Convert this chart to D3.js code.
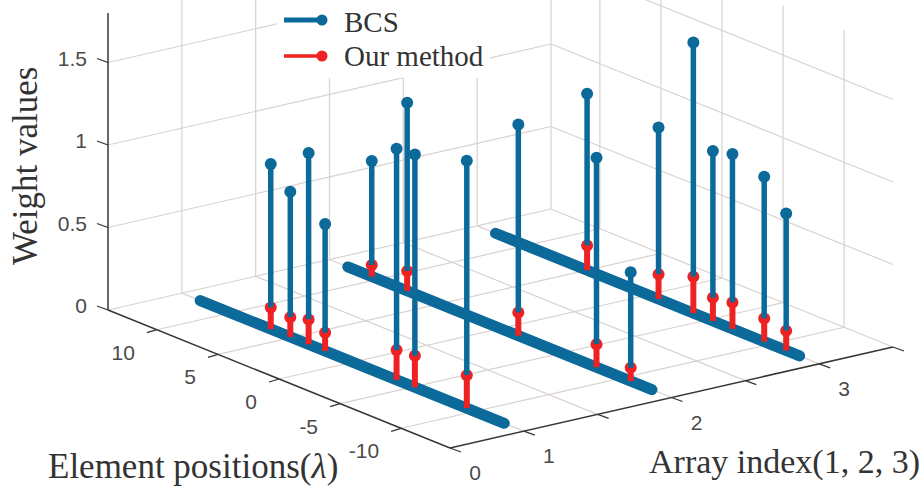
<!DOCTYPE html>
<html>
<head>
<meta charset="utf-8">
<script src="https://cdn.jsdelivr.net/npm/d3@7"></script>
<style>
  html, body { margin: 0; padding: 0; background: #fff; }
  .serif { font-family: "Liberation Serif", serif; fill: #333; }
  .tick { font-family: "Liberation Sans", sans-serif; font-size: 21px; fill: #4a4a4a; }
</style>
</head>
<body>
<div id="chart"></div>
<script>
// chart values
var arrayIndex = [1, 2, 3];
var lineExtent = [12.5, -12.4];

var positions1 = [6.72, 5.12, 3.62, 2.27, -3.58, -5.08, -9.33];
var bcs1 = [1.0, 0.88, 1.16, 0.77, 1.40, 1.41, 1.50];
var ours1 = [0.13, 0.12, 0.15, 0.11, 0.18, 0.19, 0.20];

var positions2 = [10.54, 7.64, -1.46, -7.86, -10.66];
var bcs2 = [0.70, 1.14, 1.28, 1.27, 0.66];
var ours2 = [0.07, 0.12, 0.14, 0.14, 0.08];

var positions3 = [5.0, -0.85, -3.7, -5.3, -6.9, -9.5, -11.3];
var bcs3 = [1.07, 1.04, 1.64, 1.03, 1.06, 1.0, 0.83];
var ours3 = [0.15, 0.15, 0.22, 0.14, 0.16, 0.14, 0.12];

var zTicks = [0, 0.5, 1, 1.5];
var zLabels = ["0", "0.5", "1", "1.5"];
var posTicks = [10, 5, 0, -5, -10];
var uGrid = [1, 1.5, 2, 2.5, 3];
var uTicks = [0.5, 1, 1.5, 2, 2.5, 3, 3.5];
var uLabelAt = [0.5, 1, 2, 3];
var uLabels = ["0", "1", "2", "3"];
var seriesNames = ["BCS", "Our method"];

var blue = "#0c6a9b", red = "#ee2222", gridColor = "#d9d2ce", axisColor = "#3a3535";
var width = 924, height = 486;

var svg = d3.select("#chart").append("svg")
    .attr("width", width)
    .attr("height", height)
    .style("display", "block");

// floor is a parallelogram, the scales give how far along each edge we are
var u = d3.scaleLinear().domain([0.5, 3.5]).range([0, 1]);
var p = d3.scaleLinear().domain([14, -14]).range([0, 1]);
var z = d3.scaleLinear().domain([0, 1.8]).range([0, 297]);
var zMax = 1.8;

function project(ui, pi, zi) {
  var a = u(ui), t = p(pi);
  return [108 + a * 443 + t * 342, 310 - a * 101 + t * 138 - z(zi)];
}

var line = d3.line();
function seg(g, a, b, color, w, cap) {
  return g.append("path")
    .attr("d", line([a, b]))
    .attr("fill", "none")
    .attr("stroke", color)
    .attr("stroke-width", w)
    .attr("stroke-linecap", cap || "butt");
}

// grid on the floor and both walls
var grid = svg.append("g");
uGrid.forEach(function(d) {
  seg(grid, project(d, 14, 0), project(d, -14, 0), gridColor, 1.2);
  seg(grid, project(d, 14, 0), project(d, 14, zMax), gridColor, 1.2);
});
posTicks.forEach(function(d) {
  seg(grid, project(0.5, d, 0), project(3.5, d, 0), gridColor, 1.2);
  seg(grid, project(3.5, d, 0), project(3.5, d, zMax), gridColor, 1.2);
});
zTicks.forEach(function(d) {
  seg(grid, project(0.5, 14, d), project(3.5, 14, d), gridColor, 1.2);
  seg(grid, project(3.5, 14, d), project(3.5, -14, d), gridColor, 1.2);
});
seg(grid, project(3.5, 14, 0), project(3.5, 14, zMax), gridColor, 1.2);

// legend box hides the grid behind it
svg.append("rect")
    .attr("x", 277).attr("y", 0)
    .attr("width", 213).attr("height", 78)
    .attr("fill", "#fff");

// axes
var axes = svg.append("g");
seg(axes, project(0.5, 14, 0), project(0.5, 14, zMax), axisColor, 1.5);
seg(axes, project(0.5, 14, 0), project(0.5, -14, 0), axisColor, 1.5);
seg(axes, project(0.5, -14, 0), project(3.5, -14, 0), axisColor, 1.5);

zTicks.forEach(function(d, i) {
  var c = project(0.5, 14, d);
  seg(axes, c, [c[0] - 11, c[1] - 4], axisColor, 1.3);
  axes.append("text").attr("class", "tick")
    .attr("x", c[0] - 21).attr("y", c[1] + 3)
    .attr("text-anchor", "end")
    .text(zLabels[i]);
});
posTicks.forEach(function(d) {
  var c = project(0.5, d, 0);
  seg(axes, c, [c[0] - 10, c[1] + 3], axisColor, 1.3);
  axes.append("text").attr("class", "tick")
    .attr("x", c[0] - 22).attr("y", c[1] + 30)
    .attr("text-anchor", "end")
    .text(d);
});
uTicks.forEach(function(d) {
  var c = project(d, -14, 0);
  seg(axes, c, [c[0] + 11, c[1] + 4], axisColor, 1.3);
});
uLabelAt.forEach(function(d, i) {
  var c = project(d, -14, 0);
  axes.append("text").attr("class", "tick")
    .attr("x", c[0] + 25).attr("y", c[1] + 32)
    .attr("text-anchor", "middle")
    .text(uLabels[i]);
});

// back array first so the front ones overlap it
function drawArray(index, positions, bcs, ours) {
  var g = svg.append("g");
  seg(g, project(index, lineExtent[0], 0), project(index, lineExtent[1], 0), blue, 11, "round");
  positions.forEach(function(d, i) {
    var top = project(index, d, bcs[i]);
    var mid = project(index, d, ours[i]);
    var base = project(index, d, 0);
    g.append("circle").attr("cx", mid[0]).attr("cy", mid[1]).attr("r", 6).attr("fill", red);
    seg(g, top, mid, blue, 5.5);
    g.append("circle").attr("cx", top[0]).attr("cy", top[1]).attr("r", 6).attr("fill", blue);
    seg(g, mid, base, red, 6);
  });
}
drawArray(arrayIndex[2], positions3, bcs3, ours3);
drawArray(arrayIndex[1], positions2, bcs2, ours2);
drawArray(arrayIndex[0], positions1, bcs1, ours1);

// legend
var legend = svg.append("g");
seg(legend, [284, 20], [322, 20], blue, 5);
legend.append("circle").attr("cx", 322).attr("cy", 20).attr("r", 5.5).attr("fill", blue);
seg(legend, [284, 56], [322, 56], red, 3.5);
legend.append("circle").attr("cx", 322).attr("cy", 56).attr("r", 5.5).attr("fill", red);
legend.append("text").attr("class", "serif")
    .attr("x", 344).attr("y", 32).style("font-size", "29px").text(seriesNames[0]);
legend.append("text").attr("class", "serif")
    .attr("x", 344).attr("y", 66).style("font-size", "29px").text(seriesNames[1]);

// axis titles
svg.append("text").attr("class", "serif")
    .attr("transform", "translate(37,265) rotate(-90)")
    .style("font-size", "35px")
    .text("Weight values");
svg.append("text").attr("class", "serif")
    .attr("x", 48).attr("y", 478)
    .style("font-size", "35px")
    .html('Element positions(<tspan font-style="italic">λ</tspan>)');
svg.append("text").attr("class", "serif")
    .attr("x", 649).attr("y", 473)
    .style("font-size", "34px")
    .text("Array index(1, 2, 3)");
</script>
</body>
</html>
